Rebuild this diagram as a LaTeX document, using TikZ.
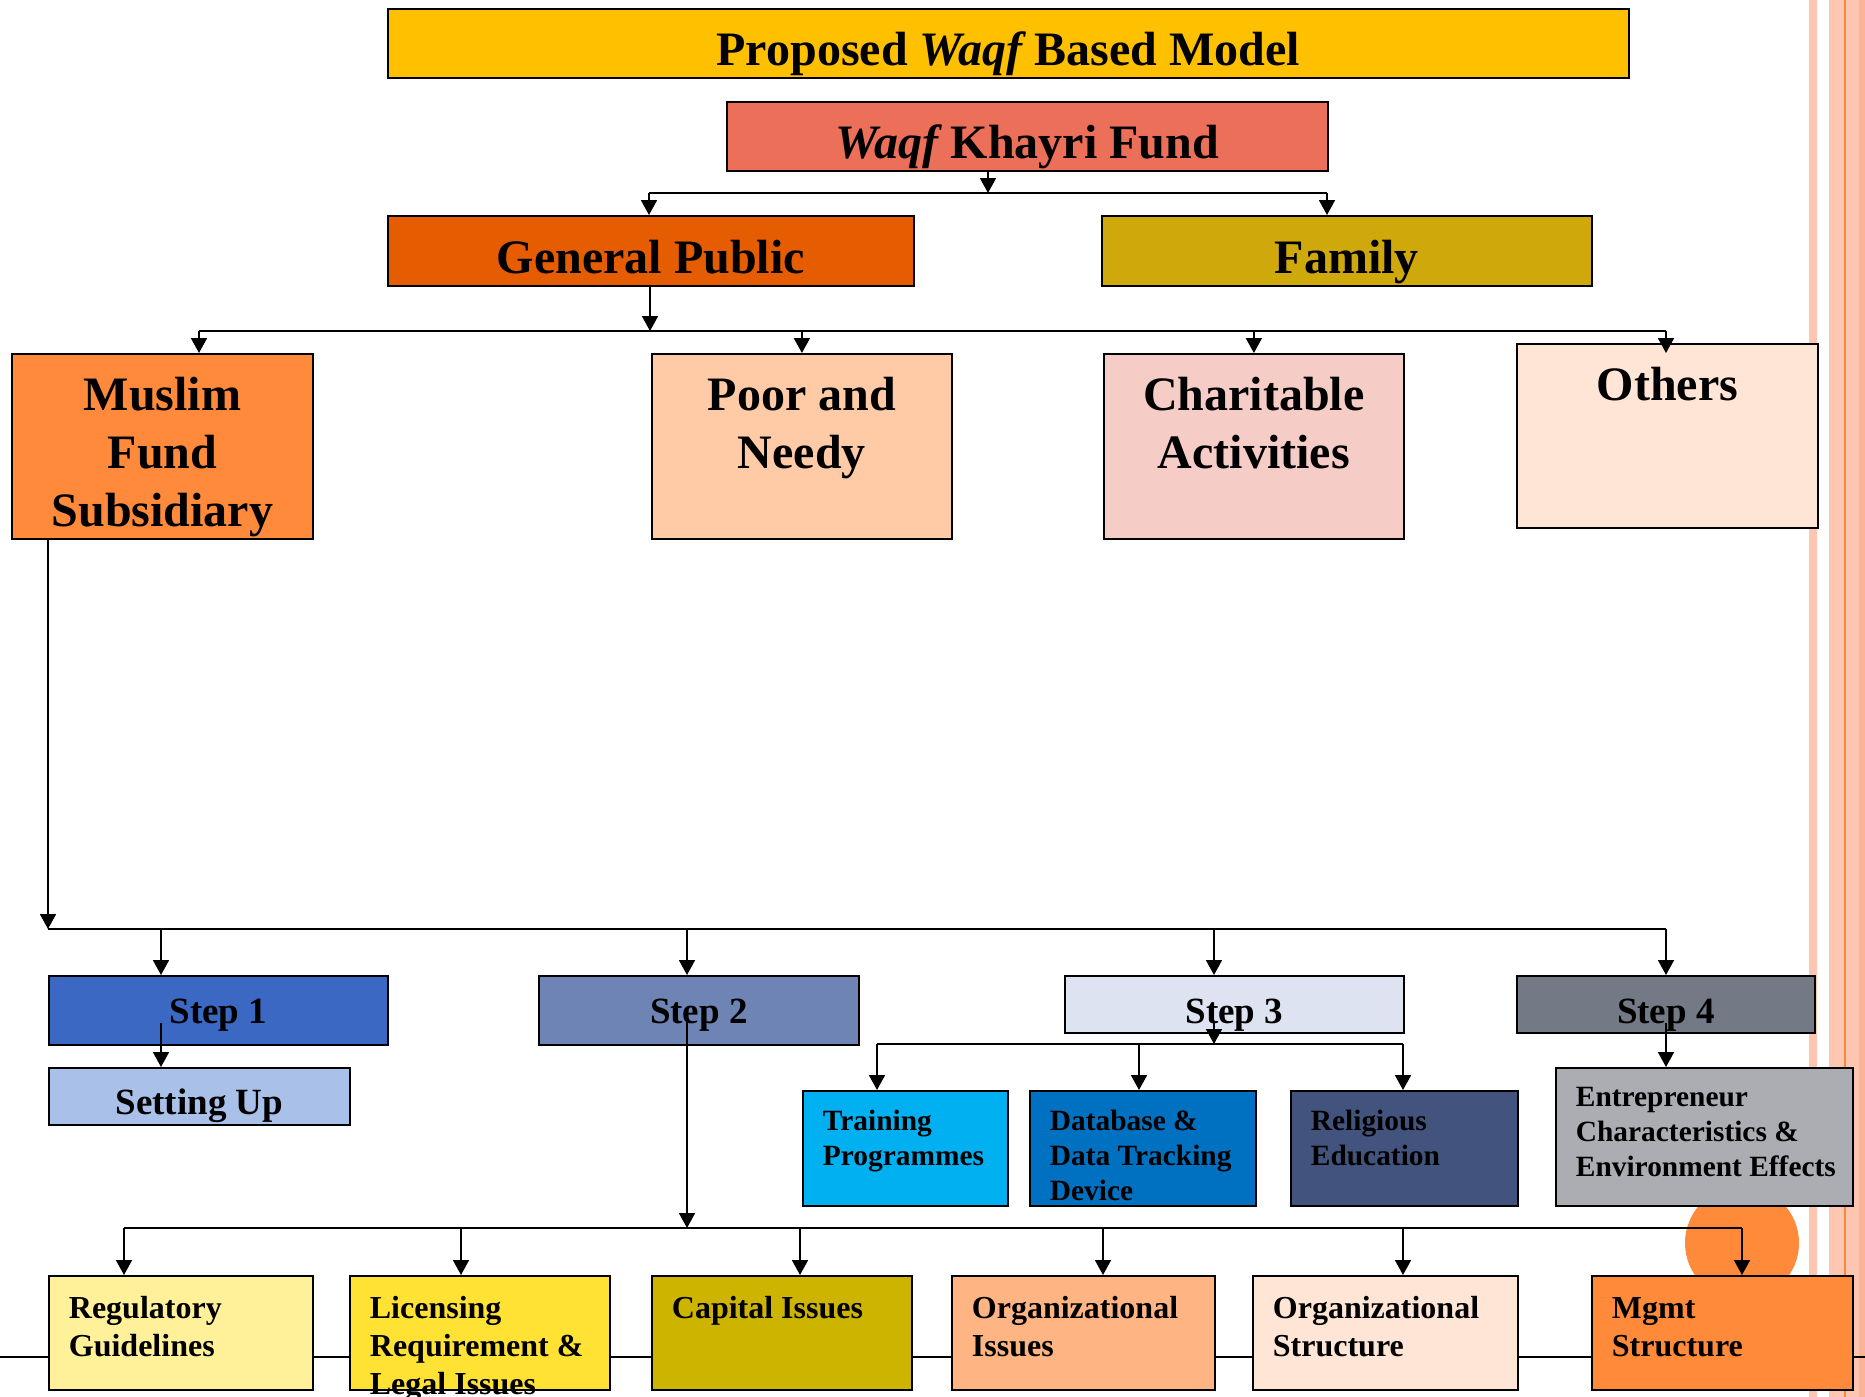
\documentclass[tikz,border=0pt]{standalone}
\usepackage{fontspec}
\setmainfont{Liberation Serif}
\usetikzlibrary{arrows.meta}

\newdimen\pxu \pxu=0.5pt
% fixed-size text block: width, height, first baseline, alignment, text
\newcommand\bxtext[5]{\parbox[c][#2\pxu][t]{#1\pxu}{#4\rule{0pt}{#3\pxu}#5}}
\newcommand\lft{\raggedright\leftskip=20\pxu}

\definecolor{cTitle}{HTML}{FFC000}
\definecolor{cWaqf}{HTML}{EC6F5A}
\definecolor{cGP}{HTML}{E65C00}
\definecolor{cFam}{HTML}{CFA80C}
\definecolor{cMFS}{HTML}{FF8A3C}
\definecolor{cPoor}{HTML}{FFCBA6}
\definecolor{cChar}{HTML}{F6CCC6}
\definecolor{cOth}{HTML}{FFE5D6}
\definecolor{cSa}{HTML}{3A68C2}
\definecolor{cSb}{HTML}{6D84B4}
\definecolor{cSc}{HTML}{DDE3F0}
\definecolor{cSd}{HTML}{737A86}
\definecolor{cSet}{HTML}{A9C0E8}
\definecolor{cTrain}{HTML}{00B0F0}
\definecolor{cData}{HTML}{0070C0}
\definecolor{cRel}{HTML}{42547E}
\definecolor{cEnt}{HTML}{ABADB2}
\definecolor{cReg}{HTML}{FFF09A}
\definecolor{cLic}{HTML}{FFE233}
\definecolor{cCap}{HTML}{CDB400}
\definecolor{cOrgI}{HTML}{FFB483}
\definecolor{cOrgS}{HTML}{FFE5D6}
\definecolor{cMgmt}{HTML}{FF8A3A}
\definecolor{cStripe}{HTML}{FCC6B1}
\definecolor{cStripeD}{HTML}{FBB496}
\definecolor{cStripeL}{HTML}{F5893D}

\tikzset{
  blk/.style={draw=black, line width=0.9pt, inner sep=0pt, anchor=north west},
  big/.style={font=\fontsize{24}{29}\selectfont\bfseries},
  stp/.style={font=\fontsize{18.5}{22}\selectfont\bfseries},
  sml/.style={font=\fontsize{14.7}{17.5}\selectfont\bfseries},
  btm/.style={font=\fontsize{16}{19}\selectfont\bfseries},
  link/.style={draw=black, line width=0.9pt},
  arr/.style={link, -{Triangle[length=7.5pt,width=8pt]}},
}

\begin{document}
\begin{tikzpicture}[x=0.5pt, y=-0.5pt]
\useasboundingbox (0,0) rectangle (1865,1397);
\fill[white] (0,0) rectangle (1865,1397);

% page decoration on the right
\fill[cStripe] (1809,0) rectangle (1817,1397);
\fill[cStripe] (1829,0) rectangle (1865,1397);
\fill[cStripeD] (1859,0) rectangle (1865,1397);
\fill[cStripeL] (1844,0) rectangle (1846,1397);

% rule running behind the bottom row
\coordinate (rl) at (0,1357);
\coordinate (rr) at (1865,1357);
\draw[link] (rl) -- (rr);

% orange disc behind the lower right boxes
\fill[cMgmt] (1742,1243) circle [radius=57];

% top levels
\node[blk, big, fill=cTitle] (title) at (387,8)
  {\bxtext{1241}{69}{57}{\centering}{Proposed {\itshape Waqf} Based Model}};
\node[blk, big, fill=cWaqf] (waqf) at (726,101)
  {\bxtext{601}{69}{57}{\centering}{{\itshape Waqf} Khayri Fund}};
\node[blk, big, fill=cGP] (gp) at (387,215)
  {\bxtext{526}{70}{58}{\centering}{General Public}};
\node[blk, big, fill=cFam] (fam) at (1101,215)
  {\bxtext{490}{70}{58}{\centering}{Family}};

\node[blk, big, fill=cMFS] (mfs) at (11,353)
  {\bxtext{301}{185}{57}{\centering}{Muslim\\Fund\\Subsidiary}};
\node[blk, big, fill=cPoor] (poor) at (651,353)
  {\bxtext{300}{185}{57}{\centering}{Poor and\\Needy}};
\node[blk, big, fill=cChar] (char) at (1103,353)
  {\bxtext{300}{185}{57}{\centering}{Charitable\\Activities}};
\node[blk, big, fill=cOth] (oth) at (1516,343)
  {\bxtext{301}{184}{57}{\centering}{Others}};

% steps
\node[blk, stp, fill=cSa] (s1) at (48,975)
  {\bxtext{339}{69}{48}{\centering}{Step 1}};
\node[blk, stp, fill=cSb] (s2) at (538,975)
  {\bxtext{320}{69}{48}{\centering}{Step 2}};
\node[blk, stp, fill=cSc] (s3) at (1064,975)
  {\bxtext{339}{57}{48}{\centering}{Step 3}};
\node[blk, stp, fill=cSd] (s4) at (1516,975)
  {\bxtext{298}{57}{48}{\centering}{Step 4}};
\node[blk, stp, fill=cSet] (setup) at (48,1067)
  {\bxtext{301}{57}{47}{\centering}{Setting Up}};

% step 3 and step 4 details
\node[blk, sml, fill=cTrain] (train) at (802,1090)
  {\bxtext{205}{115}{40}{\lft}{Training\\Programmes}};
\node[blk, sml, fill=cData] (data) at (1029,1090)
  {\bxtext{226}{115}{40}{\lft}{Database \&\\Data Tracking\\Device}};
\node[blk, sml, fill=cRel] (rel) at (1290,1090)
  {\bxtext{227}{115}{40}{\lft}{Religious\\Education}};
\node[blk, sml, fill=cEnt] (ent) at (1555,1067)
  {\bxtext{297}{138}{39}{\lft}{Entrepreneur\\Characteristics \&\\Environment Effects}};

% step 2 details
\node[blk, btm, fill=cReg] (reg) at (48,1275)
  {\bxtext{264}{114}{43}{\lft}{Regulatory\\Guidelines}};
\node[blk, btm, fill=cLic] (lic) at (349,1275)
  {\bxtext{260}{114}{43}{\lft}{Licensing\\Requirement \&\\Legal Issues}};
\node[blk, btm, fill=cCap] (cap) at (651,1275)
  {\bxtext{260}{114}{43}{\lft}{Capital Issues}};
\node[blk, btm, fill=cOrgI] (orgi) at (951,1275)
  {\bxtext{263}{114}{43}{\lft}{Organizational\\Issues}};
\node[blk, btm, fill=cOrgS] (orgs) at (1252,1275)
  {\bxtext{265}{114}{43}{\lft}{Organizational\\Structure}};
\node[blk, btm, fill=cMgmt] (mgmt) at (1591,1275)
  {\bxtext{261}{114}{43}{\lft}{Mgmt\\Structure}};

% fund split
\coordinate (ja) at (988,193);
\coordinate (jal) at (649,193);
\coordinate (jar) at (1327,193);
\draw[arr] (waqf.south -| ja) -- (ja);
\draw[link] (jal) -- (jar);
\draw[arr] (jal) -- (gp.north -| jal);
\draw[arr] (jar) -- (fam.north -| jar);

% general public split
\coordinate (jb) at (650,331);
\coordinate (jbl) at (199,331);
\coordinate (jbr) at (1666,331);
\draw[arr] (gp.south -| jb) -- (jb);
\draw[link] (jbl) -- (jbr);
\draw[arr] (jbl) -- (mfs.north -| jbl);
\draw[arr] (jbl -| poor) -- (poor.north);
\draw[arr] (jbl -| char) -- (char.north);
\draw[arr] (jbr) -- (mfs.north -| jbr);

% subsidiary to the four steps
\coordinate (jc) at (48,929);
\coordinate (jcr) at (1666,929);
\coordinate (jc1) at (161,929);
\coordinate (jc2) at (687,929);
\coordinate (jc3) at (1214,929);
\draw[arr] (mfs.south -| jc) -- (jc);
\draw[link] (jc) -- (jcr);
\draw[arr] (jc1) -- (s1.north -| jc1);
\draw[arr] (jc2) -- (s2.north -| jc2);
\draw[arr] (jc3) -- (s3.north -| jc3);
\draw[arr] (jcr) -- (s4.north -| jcr);

% step 1
\coordinate (d1) at (161,1023);
\draw[arr] (d1) -- (setup.north -| d1);

% step 3 split
\coordinate (d3) at (1214,1023);
\coordinate (je) at (1214,1044);
\coordinate (jel) at (877,1044);
\coordinate (jem) at (1139,1044);
\coordinate (jer) at (1403,1044);
\draw[arr] (d3) -- (je);
\draw[link] (jel) -- (jer);
\draw[arr] (jel) -- (train.north -| jel);
\draw[arr] (jem) -- (data.north -| jem);
\draw[arr] (jer) -- (rel.north -| jer);

% step 4
\coordinate (d4) at (1666,1023);
\draw[arr] (d4) -- (ent.north -| d4);

% step 2 split
\coordinate (d2) at (687,1017);
\coordinate (jd) at (687,1228);
\coordinate (jdl) at (124,1228);
\coordinate (jdr) at (1742,1228);
\coordinate (jd2) at (461,1228);
\coordinate (jd3) at (800,1228);
\coordinate (jd4) at (1103,1228);
\coordinate (jd5) at (1403,1228);
\draw[arr] (d2) -- (jd);
\draw[link] (jdl) -- (jdr);
\draw[arr] (jdl) -- (reg.north -| jdl);
\draw[arr] (jd2) -- (lic.north -| jd2);
\draw[arr] (jd3) -- (cap.north -| jd3);
\draw[arr] (jd4) -- (orgi.north -| jd4);
\draw[arr] (jd5) -- (orgs.north -| jd5);
\draw[arr] (jdr) -- (mgmt.north -| jdr);
\end{tikzpicture}
\end{document}
